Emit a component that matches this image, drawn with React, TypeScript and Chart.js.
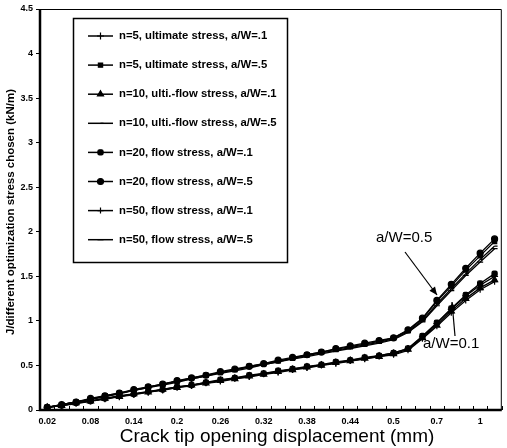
import React, { useEffect, useRef } from 'react';
import { Chart, registerables } from 'chart.js';
import { drawPoint } from 'chart.js/helpers';

Chart.register(...registerables);

const categories = [
  '0.02', '0.04', '0.06', '0.08', '0.1', '0.12', '0.14', '0.16', '0.18', '0.2',
  '0.22', '0.24', '0.26', '0.28', '0.3', '0.32', '0.34', '0.36', '0.38', '0.4',
  '0.42', '0.44', '0.46', '0.48', '0.5', '0.55', '0.6', '0.7', '0.8', '0.9', '1', '1.1',
];

const n5UltA1 = [0.03, 0.05, 0.08, 0.10, 0.13, 0.15, 0.18, 0.20, 0.23, 0.26, 0.28, 0.31, 0.33, 0.36, 0.38, 0.41, 0.43, 0.46, 0.48, 0.51, 0.53, 0.56, 0.58, 0.61, 0.64, 0.69, 0.82, 0.97, 1.13, 1.28, 1.40, 1.50];
const n5UltA5 = [0.03, 0.06, 0.09, 0.12, 0.16, 0.19, 0.22, 0.26, 0.29, 0.32, 0.36, 0.39, 0.42, 0.45, 0.49, 0.52, 0.55, 0.58, 0.62, 0.65, 0.68, 0.71, 0.74, 0.77, 0.81, 0.89, 1.02, 1.22, 1.39, 1.57, 1.73, 1.89];
const n10UltFlowA1 = [0.03, 0.05, 0.08, 0.10, 0.13, 0.15, 0.18, 0.20, 0.23, 0.25, 0.28, 0.30, 0.33, 0.35, 0.38, 0.40, 0.43, 0.45, 0.48, 0.50, 0.53, 0.55, 0.58, 0.60, 0.63, 0.68, 0.81, 0.95, 1.11, 1.25, 1.37, 1.46];
const n10UltFlowA5 = [0.03, 0.06, 0.09, 0.12, 0.15, 0.19, 0.22, 0.25, 0.29, 0.32, 0.35, 0.38, 0.42, 0.45, 0.48, 0.51, 0.54, 0.58, 0.61, 0.64, 0.67, 0.70, 0.73, 0.76, 0.80, 0.88, 1.00, 1.19, 1.36, 1.53, 1.69, 1.84];
const n20FlowA1 = [0.03, 0.05, 0.08, 0.10, 0.13, 0.16, 0.18, 0.21, 0.23, 0.26, 0.28, 0.31, 0.34, 0.36, 0.39, 0.41, 0.44, 0.46, 0.49, 0.51, 0.54, 0.56, 0.59, 0.61, 0.64, 0.69, 0.83, 0.98, 1.14, 1.29, 1.42, 1.53];
const n20FlowA5 = [0.03, 0.06, 0.09, 0.13, 0.16, 0.19, 0.23, 0.26, 0.29, 0.33, 0.36, 0.39, 0.43, 0.46, 0.49, 0.52, 0.56, 0.59, 0.62, 0.65, 0.69, 0.72, 0.75, 0.78, 0.81, 0.90, 1.03, 1.23, 1.41, 1.59, 1.76, 1.92];
const n50FlowA1 = [0.03, 0.05, 0.07, 0.10, 0.12, 0.15, 0.17, 0.20, 0.22, 0.25, 0.27, 0.30, 0.32, 0.35, 0.37, 0.40, 0.42, 0.45, 0.47, 0.50, 0.52, 0.55, 0.57, 0.60, 0.62, 0.67, 0.80, 0.94, 1.09, 1.23, 1.35, 1.44];
const n50FlowA5 = [0.03, 0.06, 0.09, 0.12, 0.15, 0.18, 0.22, 0.25, 0.28, 0.31, 0.35, 0.38, 0.41, 0.44, 0.47, 0.51, 0.54, 0.57, 0.60, 0.63, 0.66, 0.69, 0.72, 0.75, 0.79, 0.87, 0.99, 1.17, 1.34, 1.51, 1.66, 1.81];

const seriesLabels = [
  'n=5, ultimate stress, a/W=.1',
  'n=5, ultimate stress, a/W=.5',
  'n=10, ulti.-flow stress, a/W=.1',
  'n=10, ulti.-flow stress, a/W=.5',
  'n=20, flow stress, a/W=.1',
  'n=20, flow stress, a/W=.5',
  'n=50, flow stress, a/W=.1',
  'n=50, flow stress, a/W=.5',
];
const seriesData = [n5UltA1, n5UltA5, n10UltFlowA1, n10UltFlowA5, n20FlowA1, n20FlowA5, n50FlowA1, n50FlowA5];
const pointStyles = ['cross', 'rect', 'triangle', 'dash', 'rectRounded', 'circle', 'cross', 'line'];
const pointRadii = [3.5, 3, 3.5, 3, 3, 3, 3, 3];

const yTicks = [0, 0.5, 1, 1.5, 2, 2.5, 3, 3.5, 4, 4.5];

const xTitle = 'Crack tip opening displacement (mm)';
const yTitle = 'J/different optimization stress chosen (kN/m)';

function arrow(ctx: CanvasRenderingContext2D, x1: number, y1: number, x2: number, y2: number) {
  ctx.beginPath();
  ctx.moveTo(x1, y1);
  ctx.lineTo(x2, y2);
  ctx.stroke();
  const ang = Math.atan2(y2 - y1, x2 - x1);
  const L = 8, W = 3.5;
  ctx.beginPath();
  ctx.moveTo(x2, y2);
  ctx.lineTo(x2 - L * Math.cos(ang) + W * Math.sin(ang), y2 - L * Math.sin(ang) - W * Math.cos(ang));
  ctx.lineTo(x2 - L * Math.cos(ang) - W * Math.sin(ang), y2 - L * Math.sin(ang) + W * Math.cos(ang));
  ctx.closePath();
  ctx.fill();
}

const overlay = {
  id: 'overlay',
  afterDraw(chart: any) {
    const { ctx, chartArea: a, scales } = chart;
    ctx.save();
    ctx.strokeStyle = '#000';
    ctx.fillStyle = '#000';
    // frame
    ctx.lineWidth = 1;
    ctx.beginPath();
    ctx.moveTo(a.left, a.top + 0.5);
    ctx.lineTo(a.right - 0.5, a.top + 0.5);
    ctx.lineTo(a.right - 0.5, a.bottom);
    ctx.stroke();
    ctx.lineWidth = 2.5;
    ctx.beginPath();
    ctx.moveTo(a.left, a.top);
    ctx.lineTo(a.left, a.bottom);
    ctx.lineTo(a.right, a.bottom);
    ctx.stroke();
    // x tick marks pointing inward, at category boundaries
    ctx.lineWidth = 1;
    const xs = scales.x;
    for (let i = 0; i <= categories.length; i++) {
      const px = Math.round(xs.getPixelForValue(i) - (xs.getPixelForValue(1) - xs.getPixelForValue(0)) / 2) + 0.5;
      ctx.beginPath();
      ctx.moveTo(px, a.bottom - 4);
      ctx.lineTo(px, a.bottom);
      ctx.stroke();
    }
    // legend
    const bx = 73, by = 18, bw = 214, bh = 244;
    ctx.fillStyle = '#fff';
    ctx.fillRect(bx, by, bw, bh);
    ctx.fillStyle = '#000';
    ctx.lineWidth = 1.5;
    ctx.strokeRect(bx + 0.5, by + 0.5, bw, bh);
    ctx.font = 'bold 11.3px "Liberation Sans", Arial, sans-serif';
    ctx.textBaseline = 'middle';
    ctx.textAlign = 'left';
    for (let i = 0; i < seriesLabels.length; i++) {
      const y = 36 + i * 29.1;
      ctx.lineWidth = 1.5;
      ctx.beginPath();
      ctx.moveTo(88, y);
      ctx.lineTo(113, y);
      ctx.stroke();
      ctx.lineWidth = 1.2;
      drawPoint(ctx, { pointStyle: pointStyles[i] as any, rotation: 0, borderWidth: 1.2, radius: pointRadii[i] }, 100.5, y);
      ctx.fillText(seriesLabels[i], 119, y);
    }
    // axis titles
    ctx.font = '19px "Liberation Sans", Arial, sans-serif';
    ctx.textAlign = 'center';
    ctx.textBaseline = 'middle';
    ctx.fillText(xTitle, 277, 437);
    ctx.save();
    ctx.translate(11, 212);
    ctx.rotate(-Math.PI / 2);
    ctx.font = 'bold 11.5px "Liberation Sans", Arial, sans-serif';
    ctx.fillText(yTitle, 0, 0);
    ctx.restore();
    // annotations
    ctx.font = '15px "Liberation Sans", Arial, sans-serif';
    ctx.textAlign = 'left';
    ctx.fillText('a/W=0.5', 376, 238);
    ctx.fillText('a/W=0.1', 423, 344);
    ctx.lineWidth = 1.2;
    arrow(ctx, 405, 252, 437, 295);
    arrow(ctx, 455, 336, 452, 302);
    ctx.restore();
  },
};

export default function App() {
  const ref = useRef<HTMLCanvasElement | null>(null);
  useEffect(() => {
    if (!ref.current) return;
    const chart = new Chart(ref.current, {
      type: 'line',
      data: {
        labels: categories,
        datasets: seriesData.map((d, i) => ({
          label: seriesLabels[i],
          data: d,
          borderColor: '#000',
          backgroundColor: '#000',
          borderWidth: 1.3,
          pointStyle: pointStyles[i] as any,
          pointRadius: pointRadii[i],
          pointBorderWidth: 1.2,
          pointBorderColor: '#000',
          pointBackgroundColor: '#000',
          tension: 0,
          fill: false,
        })),
      },
      options: {
        animation: false,
        responsive: false,
        maintainAspectRatio: false,
        layout: { padding: { left: 0, right: 2, top: 9, bottom: 0 } },
        plugins: { legend: { display: false }, tooltip: { enabled: false } },
        scales: {
          x: {
            type: 'category',
            offset: true,
            grid: { display: false, drawOnChartArea: false, drawTicks: false },
            border: { display: false },
            afterFit: (s: any) => { s.height = 38; },
            ticks: {
              autoSkip: false,
              maxRotation: 0,
              minRotation: 0,
              padding: 6,
              color: '#000',
              font: { family: '"Liberation Sans", Arial, sans-serif', size: 9, weight: 'bold' },
              callback: (_v: any, i: number) => (i % 3 === 0 ? categories[i] : ''),
            },
          },
          y: {
            min: 0,
            max: 4.5,
            afterFit: (s: any) => { s.width = 40; },
            afterBuildTicks: (s: any) => { s.ticks = yTicks.map((v) => ({ value: v })); },
            grid: { drawOnChartArea: false, drawTicks: true, tickLength: 4, color: '#000' },
            border: { display: false },
            ticks: {
              padding: 3,
              color: '#000',
              font: { family: '"Liberation Sans", Arial, sans-serif', size: 9, weight: 'bold' },
              callback: (v: any) => String(v),
            },
          },
        },
      },
      plugins: [overlay],
    });
    return () => chart.destroy();
  }, []);
  return (
    <div style={{ position: 'fixed', left: 0, top: 0, width: 507, height: 448, background: '#fff' }}>
      <canvas ref={ref} width={507} height={448} style={{ width: 507, height: 448 }} />
    </div>
  );
}
